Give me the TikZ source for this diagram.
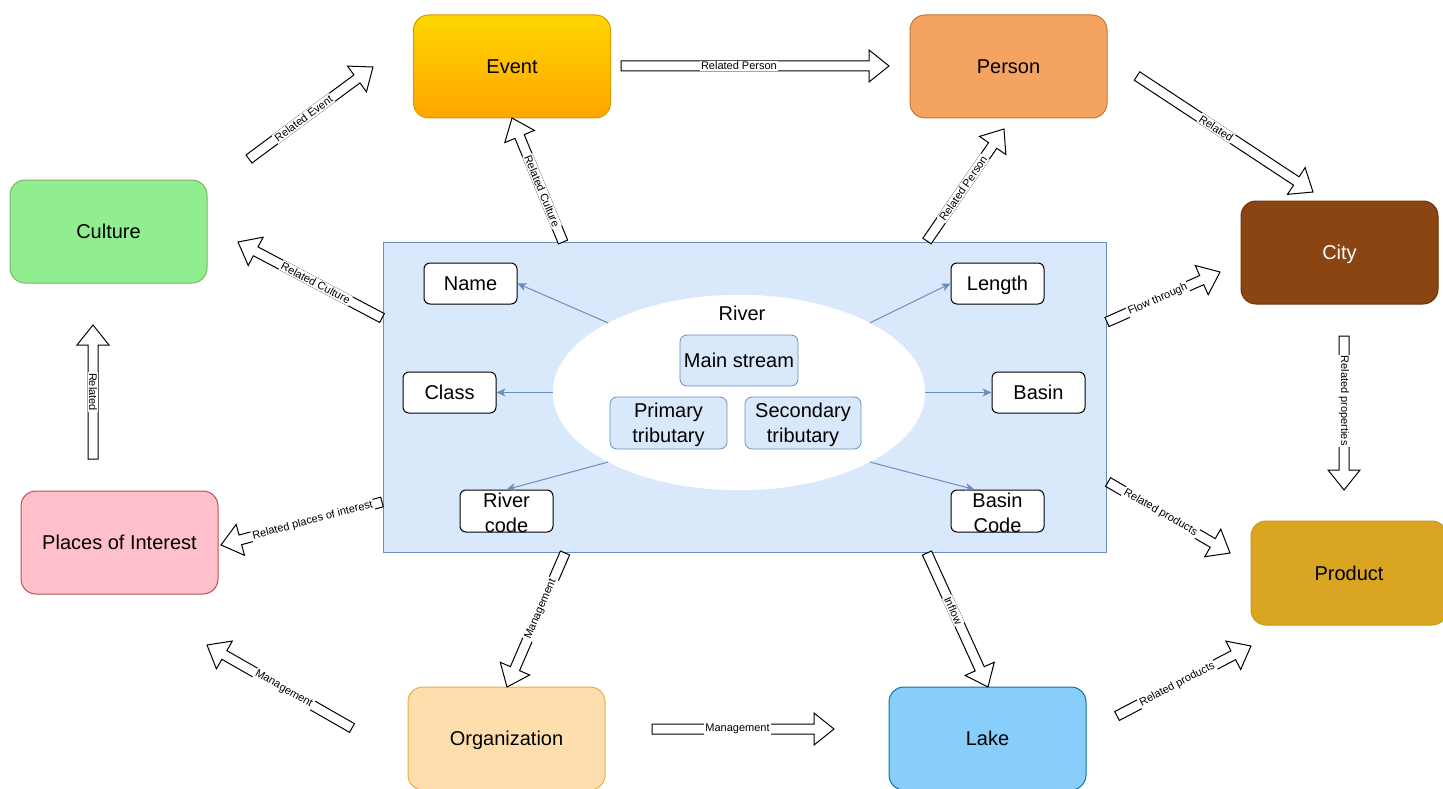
\documentclass[tikz,border=0pt]{standalone}
\usepackage{fontspec}
\setmainfont{Liberation Sans}
\usetikzlibrary{calc,shapes.geometric,arrows.meta}
\definecolor{cblue}{HTML}{6C8EBF}
\definecolor{cfill}{HTML}{DAE8FC}
\definecolor{evtop}{HTML}{FFD700}
\definecolor{evbot}{HTML}{FFA500}
\definecolor{evline}{HTML}{D79B00}
\definecolor{perfill}{HTML}{F4A460}
\definecolor{perline}{HTML}{C87533}
\definecolor{culfill}{HTML}{90EE90}
\definecolor{culline}{HTML}{82B366}
\definecolor{cityfill}{HTML}{8B4513}
\definecolor{cityline}{HTML}{6B340F}
\definecolor{plfill}{HTML}{FFC0CB}
\definecolor{plline}{HTML}{B85450}
\definecolor{prfill}{HTML}{DAA520}
\definecolor{prline}{HTML}{C49A1A}
\definecolor{orgfill}{HTML}{FFDEAD}
\definecolor{orgline}{HTML}{E0B040}
\definecolor{lakefill}{HTML}{87CEFA}
\definecolor{lakeline}{HTML}{10739E}
\tikzset{
  big/.style={draw, rounded corners=15pt, minimum width=197pt, minimum height=103pt,
    inner sep=0pt, line width=1pt, font=\fontsize{20}{24}\selectfont,
    text height=14pt, text depth=0pt},
  wbox/.style={draw=black, fill=white, rounded corners=6pt, minimum width=93pt,
    minimum height=41pt, inner sep=0pt, line width=1pt, font=\fontsize{20}{24}\selectfont,
    text height=14pt, text depth=0pt},
  bbox/.style={draw=cblue, fill=cfill, rounded corners=7pt, inner sep=0pt, line width=0.8pt},
  fa/.style={draw=black, fill=white, line width=1pt, line join=miter},
  lab/.style={fill=white, inner xsep=1pt, inner ysep=1.3pt, font=\fontsize{11}{13}\selectfont},
  inarr/.style={draw=cblue, line width=1pt, -{Stealth[length=9pt,width=8pt,inset=2.5pt]}},
  oneline/.style={font=\fontsize{20}{24}\selectfont, inner sep=0pt, text height=14pt, text depth=0pt},
  twoline/.style={font=\fontsize{20}{25}\selectfont, align=center, inner sep=0pt, yshift=-2pt},
}
\newcommand\farrow[4][0.44]{%
  \draw[fa] let \p1=(#2), \p2=(#3), \n1={atan2(\y2-\y1,\x2-\x1)},
      \n2={veclen(\x2-\x1,\y2-\y1)} in
    ($(\p1)+(\n1+90:5pt)$) -- ++(\n1:\n2-20pt) -- ++(\n1+90:11pt) -- (\p2)
    -- ($(\p2)+(\n1+180:20pt)+(\n1-90:16pt)$) -- ++(\n1+90:11pt)
    -- ++(\n1+180:\n2-20pt) -- cycle;
  \path (#2) -- (#3) node[lab, sloped, pos=#1] {#4};
}
\newcommand\farrowshape[2]{%
  \draw[fa] let \p1=(#1), \p2=(#2), \n1={atan2(\y2-\y1,\x2-\x1)},
      \n2={veclen(\x2-\x1,\y2-\y1)} in
    ($(\p1)+(\n1+90:5pt)$) -- ++(\n1:\n2-20pt) -- ++(\n1+90:11pt) -- (\p2)
    -- ($(\p2)+(\n1+180:20pt)+(\n1-90:16pt)$) -- ++(\n1+90:11pt)
    -- ++(\n1+180:\n2-20pt) -- cycle;
}
\begin{document}
\begin{tikzpicture}[x=1pt, y=-1pt]
\useasboundingbox (0,0) rectangle (1443,789);

% main entity boxes
\node[big, draw=evline, top color=evtop, bottom color=evbot] (event) at (512,66.5) {Event};
\node[big, draw=perline, fill=perfill] (person) at (1008.5,66.5) {Person};
\node[big, draw=culline, fill=culfill] (culture) at (108.5,231.5) {Culture};
\node[big, draw=cityline, fill=cityfill, text=white] (city) at (1339.5,252.5) {City};
\node[big, draw=plline, fill=plfill] (places) at (119.5,542.5) {Places of Interest};
\node[big, draw=prline, fill=prfill, minimum width=196pt, minimum height=104pt] (product) at (1349,573) {Product};
\node[big, draw=orgline, fill=orgfill] (org) at (506.5,738.5) {Organization};
\node[big, draw=lakeline, fill=lakefill] (lake) at (987.5,738.5) {Lake};

% river container
\node[draw=cblue, fill=cfill, line width=1pt, minimum width=723pt, minimum height=310pt, inner sep=0pt] (river) at (744.5,397) {};
\node[ellipse, fill=white, draw=white, minimum width=372pt, minimum height=195pt, inner sep=0pt] (ell) at (739,392.5) {};
\node[oneline] (rivertxt) at (742,313) {River};
\node[bbox, minimum width=118pt, minimum height=51pt] (main) at (739,360.5) {};
\node[oneline] (maintxt) at (main.center) {Main stream};
\node[bbox, minimum width=117pt, minimum height=52pt] (prim) at (668.5,423) {};
\node[twoline] (primtxt) at (prim.center) {Primary\\tributary};
\node[bbox, minimum width=116pt, minimum height=52pt] (sec) at (803,423) {};
\node[twoline] (sectxt) at (sec.center) {Secondary\\tributary};

% attribute boxes
\node[wbox] (name) at (470.5,283.5) {Name};
\node[wbox] (class) at (449.5,392.5) {Class};
\node[wbox, minimum height=42pt] (rcode) at (506.5,511) {};
\node[twoline] (rcodetxt) at (rcode.center) {River\\code};
\node[wbox] (length) at (997.5,283.5) {Length};
\node[wbox] (basin) at (1038.5,392.5) {Basin};
\node[wbox, minimum height=42pt] (bcode) at (997.5,511) {};
\node[twoline] (bcodetxt) at (bcode.center) {Basin\\Code};

% inner arrows
\draw[inarr] (ell.152) -- (name.east);
\draw[inarr] (ell.west) -- (class.east);
\draw[inarr] (ell.208) -- (rcode.north);
\draw[inarr] (ell.28) -- (length.west);
\draw[inarr] (ell.east) -- (basin.west);
\draw[inarr] (ell.-28) -- ([xshift=-23pt]bcode.north);

% flex arrow end points
\coordinate (a1s) at (249,159);   \coordinate (a1t) at (373,67);
\coordinate (a2s) at (621,66);    \coordinate (a2t) at (889,66);
\coordinate (a3s) at (563,242);   \coordinate (a3t) at (512,118);
\coordinate (a4s) at (382,318);   \coordinate (a4t) at (238,242);
\coordinate (a5s) at (927,241);   \coordinate (a5t) at (1004,129);
\coordinate (a6s) at (1137,76);   \coordinate (a6t) at (1313,192);
\coordinate (a7s) at (1107,322);  \coordinate (a7t) at (1220,272);
\coordinate (a8s) at (1344,336);  \coordinate (a8t) at (1344,490);
\coordinate (a9s) at (1108,482);  \coordinate (a9t) at (1230,553);
\coordinate (a10s) at (1117,716); \coordinate (a10t) at (1251,646);
\coordinate (a11s) at (927,553);  \coordinate (a11t) at (988,687);
\coordinate (a12s) at (565,553);  \coordinate (a12t) at (507,687);
\coordinate (a13s) at (652,729);  \coordinate (a13t) at (834,729);
\coordinate (a14s) at (352,728);  \coordinate (a14t) at (207,645);
\coordinate (a15s) at (382,502);  \coordinate (a15t) at (221,545);
\coordinate (a16s) at (93,459);   \coordinate (a16t) at (93,325);

\farrow{a1s}{a1t}{Related Event}
\farrow{a2s}{a2t}{Related Person}
\farrow[0.41]{a3s}{a3t}{Related Culture}
\farrow[0.46]{a4s}{a4t}{Related Culture}
\farrow[0.47]{a5s}{a5t}{Related Person}
\farrow[0.45]{a6s}{a6t}{Related}
\farrow[0.45]{a7s}{a7t}{Flow through}
\farrow[0.42]{a8s}{a8t}{Related properties}
\farrow[0.43]{a9s}{a9t}{Related products}
\farrow[0.45]{a10s}{a10t}{Related products}
\farrow[0.43]{a11s}{a11t}{Inflow}
\farrow[0.42]{a12s}{a12t}{Management}
\farrow[0.47]{a13s}{a13t}{Management}
\farrow[0.47]{a14s}{a14t}{Management}
\farrow[0.43]{a15s}{a15t}{Related places of interest}
\farrowshape{a16s}{a16t}
\path (a16t) -- (a16s) node[lab, sloped, pos=0.5] (a16lab) {Related};
\end{tikzpicture}
\end{document}
